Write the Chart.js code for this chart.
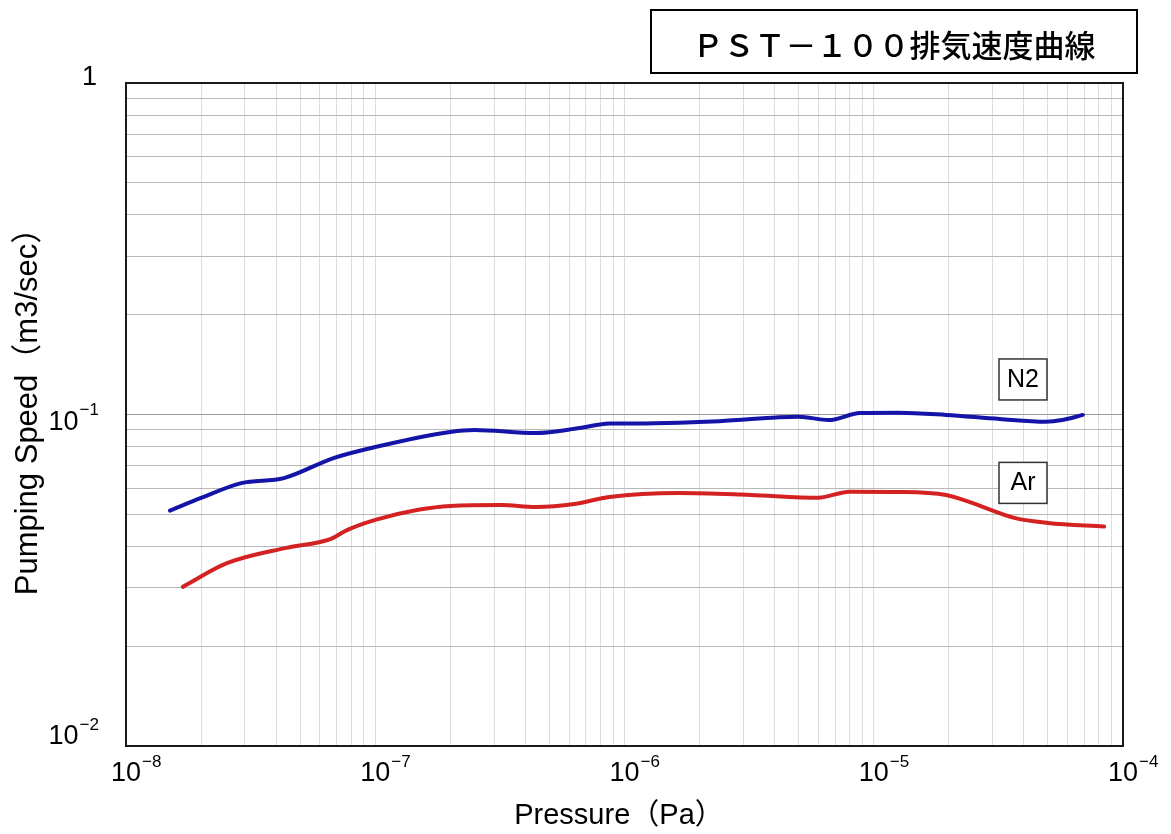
<!DOCTYPE html>
<html>
<head>
<meta charset="utf-8">
<script src="https://cdn.jsdelivr.net/npm/chart.js@4.4.1/dist/chart.umd.min.js"></script>
<style>
  html, body { margin: 0; padding: 0; background: #fff; }
</style>
</head>
<body>
<canvas id="speedChart" width="1171" height="834"></canvas>
<script>
// --- Chart data ---
const chartTitle = 'ＰＳＴ－１００排気速度曲線';
const xAxisTitle = 'Pressure（Pa）';
const yAxisTitle = 'Pumping Speed（m3/sec）';
const xTickExponents = [-8, -7, -6, -5, -4];
const yTickExponents = [-2, -1, 0];
// vertical nudge of each y tick label relative to its grid line
const yLabelNudge = [-9, 8, -5];

const seriesLabels = ['N2', 'Ar'];

// N2 pumping speed (m3/sec) vs pressure (Pa)
const n2Pressure = [1.5e-8, 2.0e-8, 2.9e-8, 4.3e-8, 6.8e-8, 1.0e-7, 2.0e-7, 2.5e-7, 4.4e-7, 6.6e-7, 8.7e-7, 1.0e-6, 2.4e-6, 5.0e-6, 6.6e-6, 8.8e-6, 1.26e-5, 1.95e-5, 3.2e-5, 4.9e-5, 5.7e-5, 6.9e-5];
const n2Speed = [0.0513, 0.0560, 0.0621, 0.0643, 0.0739, 0.0798, 0.0886, 0.0898, 0.0879, 0.0910, 0.0940, 0.0940, 0.0955, 0.0985, 0.0962, 0.1010, 0.1013, 0.0997, 0.0969, 0.0951, 0.0962, 0.0997];

// Ar pumping speed (m3/sec) vs pressure (Pa)
const arPressure = [1.69e-8, 2.54e-8, 4.4e-8, 6.6e-8, 7.7e-8, 1.0e-7, 1.47e-7, 2.0e-7, 3.2e-7, 4.4e-7, 6.3e-7, 8.7e-7, 1.66e-6, 3.2e-6, 6.0e-6, 8.0e-6, 1.26e-5, 1.95e-5, 2.4e-5, 3.7e-5, 5.0e-5, 8.4e-5];
const arSpeed = [0.0302, 0.0356, 0.0396, 0.0421, 0.0448, 0.0481, 0.0515, 0.0530, 0.0533, 0.0526, 0.0537, 0.0564, 0.0580, 0.0572, 0.0561, 0.0585, 0.0584, 0.0572, 0.0546, 0.0487, 0.0471, 0.0459];

// where the gas name boxes sit, in data units
const labelPressure = [3.97e-5, 3.97e-5];
const labelSpeed = [0.128, 0.0624];

const toPoints = (xs, ys) => xs.map((x, i) => ({ x: x, y: ys[i] }));

// 1..9 x 10^e for each decade, closing with the last power of ten
function decadeTicks(exps) {
    const ticks = [];
    for (let i = 0; i < exps.length - 1; i++) {
        for (let m = 1; m <= 9; m++) {
            ticks.push({ value: Number((m * Math.pow(10, exps[i])).toPrecision(3)), major: m === 1 });
        }
    }
    ticks.push({ value: Math.pow(10, exps[exps.length - 1]), major: true });
    return ticks;
}

const LATIN = '"Liberation Sans", Arial, sans-serif';
const CJK = '"Liberation Sans", "Noto Sans CJK JP", sans-serif';
const BASE_FONT = '27px ' + LATIN;
const SUP_FONT = '17px ' + LATIN;

// "10" with a raised exponent
function drawPower(ctx, exp, x, y, side) {
    const sup = (exp < 0 ? '\u2212' : '') + Math.abs(exp);
    ctx.font = BASE_FONT;
    const wb = ctx.measureText('10').width;
    ctx.font = SUP_FONT;
    const ws = ctx.measureText(sup).width;
    ctx.textBaseline = 'middle';
    ctx.textAlign = 'left';
    const left = side === 'center' ? x - wb / 2 : x - wb - ws - 1;
    ctx.font = BASE_FONT;
    ctx.fillText('10', left, y);
    ctx.font = SUP_FONT;
    ctx.fillText(sup, left + wb + 1, y - 12);
}

const decorations = {
    id: 'decorations',
    afterDraw(chart) {
        const ctx = chart.ctx;
        const area = chart.chartArea;
        const xs = chart.scales.x;
        const ys = chart.scales.y;
        ctx.save();
        ctx.fillStyle = '#000';

        // plot frame
        ctx.strokeStyle = '#1a1a1a';
        ctx.lineWidth = 2;
        ctx.strokeRect(area.left, area.top, area.right - area.left, area.bottom - area.top);

        // x tick labels
        xTickExponents.forEach(e => {
            drawPower(ctx, e, xs.getPixelForValue(Math.pow(10, e)), area.bottom + 28, 'center');
        });

        // y tick labels
        yTickExponents.forEach((e, i) => {
            const py = ys.getPixelForValue(Math.pow(10, e)) + yLabelNudge[i];
            if (e === 0) {
                ctx.font = BASE_FONT;
                ctx.textAlign = 'right';
                ctx.textBaseline = 'middle';
                ctx.fillText('1', 97, py);
            } else {
                drawPower(ctx, e, 99, py, 'right');
            }
        });

        // axis titles
        ctx.textAlign = 'center';
        ctx.textBaseline = 'middle';
        ctx.font = '29px ' + CJK;
        ctx.fillText(xAxisTitle, 619, 816);
        ctx.save();
        ctx.font = '31px ' + CJK;
        ctx.translate(28, 404);
        ctx.rotate(-Math.PI / 2);
        ctx.fillText(yAxisTitle, 0, 0);
        ctx.restore();

        // title box
        ctx.lineWidth = 2;
        ctx.strokeStyle = '#000';
        ctx.fillStyle = '#fff';
        ctx.fillRect(651, 10, 486, 63);
        ctx.strokeRect(651, 10, 486, 63);
        ctx.fillStyle = '#000';
        ctx.font = '500 31px "Noto Sans CJK JP", sans-serif';
        ctx.fillText(chartTitle, 894, 45);

        // gas name boxes
        seriesLabels.forEach((name, i) => {
            const cx = xs.getPixelForValue(labelPressure[i]);
            const cy = ys.getPixelForValue(labelSpeed[i]);
            ctx.fillStyle = '#fff';
            ctx.fillRect(cx - 24, cy - 20, 48, 41);
            ctx.lineWidth = 1.5;
            ctx.strokeStyle = '#333';
            ctx.strokeRect(cx - 24, cy - 20, 48, 41);
            ctx.fillStyle = '#000';
            ctx.font = '25px ' + LATIN;
            ctx.fillText(name, cx, cy + 1);
        });
        ctx.restore();
    }
};

// --- Chart Initialization ---
const ctx = document.getElementById('speedChart');

const speedChart = new Chart(ctx, {
    type: 'line',
    data: {
        datasets: [{
            label: seriesLabels[0],
            data: toPoints(n2Pressure, n2Speed),
            borderColor: '#1414a8',
            borderWidth: 4,
            pointRadius: 0,
            cubicInterpolationMode: 'monotone',
            borderCapStyle: 'round',
            fill: false
        }, {
            label: seriesLabels[1],
            data: toPoints(arPressure, arSpeed),
            borderColor: '#d42222',
            borderWidth: 4,
            pointRadius: 0,
            cubicInterpolationMode: 'monotone',
            borderCapStyle: 'round',
            fill: false
        }]
    },
    options: {
        responsive: false,
        animation: false,
        layout: {
            padding: { left: 126, top: 83, right: 48, bottom: 88 }
        },
        plugins: {
            legend: { display: false },
            tooltip: { enabled: false }
        },
        scales: {
            x: {
                type: 'logarithmic',
                min: 1e-8,
                max: 1e-4,
                afterBuildTicks: scale => { scale.ticks = decadeTicks(xTickExponents); },
                ticks: { display: false },
                border: { display: false },
                grid: { color: '#dcdcdc', lineWidth: 1, drawTicks: false }
            },
            y: {
                type: 'logarithmic',
                min: 1e-2,
                max: 1,
                afterBuildTicks: scale => { scale.ticks = decadeTicks(yTickExponents); },
                ticks: { display: false },
                border: { display: false },
                grid: {
                    color: c => (c.tick && c.tick.major ? '#9a9a9a' : '#b9b9b9'),
                    lineWidth: 1,
                    drawTicks: false
                }
            }
        }
    },
    plugins: [decorations]
});
</script>
</body>
</html>
